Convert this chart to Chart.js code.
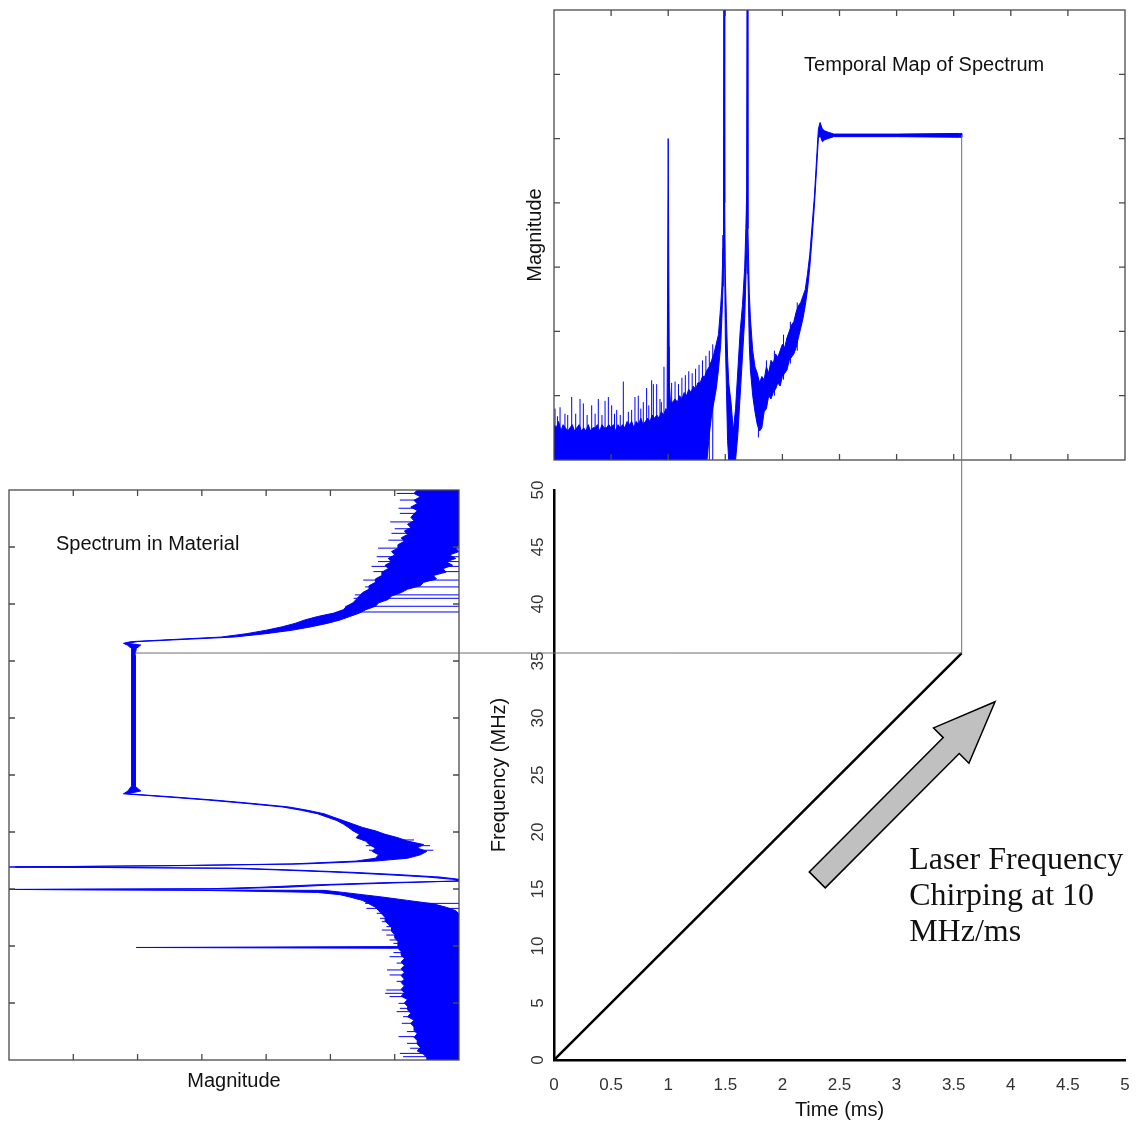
<!DOCTYPE html>
<html>
<head>
<meta charset="utf-8">
<script src="https://cdn.jsdelivr.net/npm/chart.js@4.4.1/dist/chart.umd.min.js"></script>
<style>
  html, body { margin: 0; padding: 0; background: #ffffff; }
  #stage { position: relative; width: 1137px; height: 1122px; }
  #stage canvas { position: absolute; left: 0; top: 0; }
</style>
</head>
<body>
<div id="stage">
  <canvas id="spectrum" width="1137" height="1122"></canvas>
  <canvas id="temporal" width="1137" height="1122"></canvas>
  <canvas id="chirp" width="1137" height="1122"></canvas>
</div>
<script>
// ---- Temporal map of the spectrum: dense core of the trace (low / high) against time (ms)
const temporalTime = [
  0.00, 0.02, 0.04, 0.06, 0.08, 0.10, 0.12, 0.14, 0.16, 0.18,
  0.20, 0.22, 0.24, 0.26, 0.28, 0.30, 0.32, 0.34, 0.36, 0.38,
  0.40, 0.42, 0.44, 0.46, 0.48, 0.50, 0.52, 0.54, 0.56, 0.58,
  0.60, 0.62, 0.64, 0.66, 0.68, 0.70, 0.72, 0.74, 0.76, 0.78,
  0.80, 0.82, 0.84, 0.86, 0.88, 0.90, 0.92, 0.94, 0.96, 0.98,
  0.99, 1.00, 1.01, 1.02, 1.04, 1.06, 1.08, 1.10, 1.12, 1.14,
  1.16, 1.18, 1.20, 1.22, 1.24, 1.26, 1.28, 1.30, 1.32, 1.34,
  1.36, 1.38, 1.40, 1.42, 1.44, 1.46, 1.47, 1.48, 1.485, 1.49,
  1.495, 1.50, 1.51, 1.52, 1.53, 1.55, 1.57, 1.59, 1.61, 1.63,
  1.65, 1.67, 1.68, 1.688, 1.693, 1.698, 1.71, 1.72, 1.74, 1.76,
  1.78, 1.80, 1.82, 1.84, 1.86, 1.88, 1.90, 1.92, 1.94, 1.96,
  1.98, 2.00, 2.02, 2.04, 2.06, 2.08, 2.10, 2.12, 2.14, 2.16,
  2.18, 2.20, 2.22, 2.24, 2.26, 2.28, 2.30, 2.315, 2.33, 2.35,
  2.37, 2.40, 2.45, 3.00, 3.55, 3.57
];
const temporalLow = [
  0, 0, 0, 0, 0, 0, 0, 0, 0, 0,
  0, 0, 0, 0, 0, 0, 0, 0, 0, 0,
  0, 0, 0, 0, 0, 0, 0, 0, 0, 0,
  0, 0, 0, 0, 0, 0, 0, 0, 0, 0,
  0, 0, 0, 0, 0, 0, 0, 0, 0, 0,
  0, 0, 0, 0, 0, 0, 0, 0, 0, 0,
  0, 0, 0, 0, 0, 0, 0, 0, 0, 0,
  0.4, 0.7, 0.9, 1.1, 1.4, 1.8, 2.2, 2.7, 3.5, 7.5,
  3.0, 1.9, 1.1, 0.3, 0, 0, 0, 0, 0.4, 1.0,
  1.6, 2.2, 2.8, 3.3, 7.5, 2.9, 1.8, 1.4, 1.0, 0.75,
  0.55, 0.45, 0.5, 0.75, 0.8, 1.0, 0.95, 1.05, 1.1, 1.2,
  1.15, 1.3, 1.35, 1.4, 1.55, 1.6, 1.65, 1.75, 1.9, 2.05,
  2.2, 2.4, 2.65, 3.0, 3.45, 3.95, 4.55, 5.0, 5.05, 4.95,
  4.98, 5.0, 5.03, 5.03, 5.02, 5.02
];
const temporalHigh = [
  0.55, 0.5, 0.6, 0.45, 0.55, 0.5, 0.45, 0.5, 0.55, 0.45,
  0.5, 0.55, 0.45, 0.5, 0.45, 0.55, 0.45, 0.5, 0.5, 0.55,
  0.45, 0.55, 0.5, 0.5, 0.55, 0.5, 0.55, 0.45, 0.55, 0.5,
  0.55, 0.5, 0.6, 0.55, 0.6, 0.5, 0.6, 0.55, 0.65, 0.55,
  0.6, 0.65, 0.6, 0.7, 0.65, 0.7, 0.65, 0.75, 0.7, 0.8,
  0.75, 5.0, 1.2, 0.9, 0.9, 0.95, 0.9, 1.0, 0.95, 1.05,
  1.0, 1.1, 1.05, 1.15, 1.1, 1.2, 1.2, 1.3, 1.3, 1.4,
  1.45, 1.55, 1.65, 1.8, 1.95, 2.4, 2.7, 3.3, 4.0, 8,
  4.0, 2.9, 2.2, 1.6, 1.2, 0.9, 0.45, 0.8, 1.4, 2.0,
  2.4, 3.0, 3.6, 4.2, 8, 3.6, 2.6, 2.2, 1.7, 1.45,
  1.35, 1.2, 1.3, 1.25, 1.45, 1.35, 1.55, 1.5, 1.65, 1.6,
  1.7, 1.8, 1.75, 1.9, 2.0, 2.1, 2.15, 2.3, 2.4, 2.45,
  2.55, 2.65, 2.9, 3.2, 3.65, 4.1, 4.7, 5.15, 5.25, 5.15,
  5.12, 5.1, 5.07, 5.07, 5.08, 5.08
];
// Individual noise strokes of the temporal trace (time, start, end magnitude)
const temporalSpikeTime = [
  0.009, 0.03, 0.053, 0.096, 0.12, 0.155, 0.19, 0.228, 0.257, 0.29,
  0.33, 0.36, 0.388, 0.42, 0.447, 0.476, 0.505, 0.53, 0.549, 0.58,
  0.607, 0.651, 0.68, 0.709, 0.738, 0.76, 0.782, 0.811, 0.83, 0.855,
  0.87, 0.899, 0.928, 0.94, 0.963, 1.009, 1.03, 1.06, 1.09, 1.12,
  1.15, 1.18, 1.21, 1.24, 1.27, 1.30, 1.33, 1.36, 1.39, 1.79,
  1.86, 1.93, 2.01, 2.07, 2.13
];
const temporalSpikeFrom = [
  0, 0, 0, 0, 0, 0, 0, 0, 0, 0,
  0, 0, 0, 0, 0, 0, 0, 0, 0, 0,
  0, 0, 0, 0, 0, 0, 0, 0, 0, 0,
  0, 0, 0, 0, 0, 0, 0, 0, 0, 0,
  0, 0, 0, 0, 0, 0, 0, 0, 0, 0.35,
  0.8, 1.0, 1.25, 1.5, 1.7
];
const temporalSpikeTo = [
  0.8, 0.68, 0.82, 0.72, 0.7, 0.98, 0.72, 0.95, 0.88, 0.7,
  0.85, 0.72, 0.95, 0.7, 0.92, 0.98, 0.85, 0.72, 0.78, 0.7,
  1.22, 0.75, 0.78, 0.98, 1.0, 0.8, 0.9, 1.12, 0.85, 1.24,
  1.18, 1.18, 0.95, 0.9, 1.45, 1.76, 1.2, 1.22, 1.18, 1.28,
  1.32, 1.38, 1.35, 1.42, 1.48, 1.55, 1.62, 1.7, 1.8, 1.1,
  1.55, 1.7, 1.95, 2.15, 2.45
];

// ---- Spectrum in the material: dense core (low / high magnitude) against frequency (MHz)
const spectrumFreq = [
  50.0, 49.7, 49.4, 49.1, 48.8, 48.5, 48.2, 47.9, 47.6, 47.3,
  47.0, 46.7, 46.4, 46.1, 45.8, 45.5, 45.2, 44.9, 44.6, 44.3,
  44.0, 43.7, 43.4, 43.1, 42.8, 42.5, 42.2, 41.9, 41.6, 41.3,
  41.0, 40.7, 40.4, 40.1, 39.8, 39.5, 39.2, 38.9, 38.6, 38.3,
  38.0, 37.7, 37.4, 37.1, 36.9, 36.7, 36.55, 36.4, 36.1, 35.5,
  30.0, 24.0, 23.6, 23.35, 23.1, 22.8, 22.5, 22.2, 21.9, 21.6,
  21.3, 21.0, 20.7, 20.4, 20.1, 19.8, 19.5, 19.2, 18.9, 18.6,
  18.3, 18.0, 17.7, 17.45, 17.2, 17.05, 16.93, 16.82, 16.65, 16.45,
  16.25, 16.05, 15.85, 15.7, 15.55, 15.35, 15.15, 15.02, 14.96, 14.88,
  14.7, 14.5, 14.3, 14.0, 13.7, 13.4, 13.1, 12.8, 12.5, 12.2,
  11.9, 11.6, 11.3, 11.0, 10.7, 10.4, 10.1, 9.95, 9.87, 9.8,
  9.5, 9.2, 8.9, 8.6, 8.3, 8.0, 7.7, 7.4, 7.1, 6.8,
  6.5, 6.2, 5.9, 5.6, 5.3, 5.0, 4.7, 4.4, 4.1, 3.8,
  3.5, 3.2, 2.9, 2.6, 2.3, 2.0, 1.7, 1.4, 1.1, 0.8,
  0.5, 0.2, 0.0
];
const spectrumLow = [
  6.35, 6.3, 6.4, 6.3, 6.35, 6.25, 6.35, 6.3, 6.25, 6.3,
  6.2, 6.25, 6.15, 6.2, 6.1, 6.15, 6.05, 6.05, 5.95, 6.0,
  5.9, 5.95, 5.85, 5.9, 5.8, 5.8, 5.7, 5.7, 5.6, 5.6,
  5.5, 5.45, 5.4, 5.35, 5.25, 5.2, 5.05, 4.8, 4.6, 4.45,
  4.25, 4.0, 3.7, 3.3, 2.6, 1.9, 1.78, 1.84, 1.9, 1.91,
  1.91, 1.9, 1.85, 1.78, 2.4, 3.1, 3.7, 4.25, 4.55, 4.8,
  4.95, 5.1, 5.2, 5.28, 5.35, 5.45, 5.4, 5.55, 5.6, 5.7,
  5.65, 5.75, 5.7, 5.4, 4.4, 2.5, 0, 3.4, 4.3, 5.2,
  5.9, 6.5, 6.9, 7, 5.8, 4.7, 3.9, 3.1, 0, 3.0,
  4.8, 5.15, 5.3, 5.5, 5.6, 5.7, 5.75, 5.8, 5.85, 5.85,
  5.9, 5.95, 5.95, 6.0, 6.0, 6.05, 6.05, 6.05, 1.98, 6.05,
  6.1, 6.1, 6.15, 6.1, 6.15, 6.1, 6.15, 6.1, 6.15, 6.1,
  6.15, 6.1, 6.15, 6.1, 6.2, 6.15, 6.2, 6.2, 6.25, 6.2,
  6.3, 6.25, 6.3, 6.3, 6.35, 6.3, 6.35, 6.35, 6.4, 6.35,
  6.45, 6.5, 6.5
];
const spectrumHigh = [
  7, 7, 7, 7, 7, 7, 7, 7, 7, 7,
  7, 7, 7, 7, 7, 7, 7, 6.95, 7, 6.85,
  6.95, 6.8, 6.9, 6.75, 6.8, 6.6, 6.65, 6.45, 6.4, 6.2,
  6.1, 5.95, 5.9, 5.75, 5.7, 5.55, 5.45, 5.3, 5.15, 4.95,
  4.7, 4.4, 4.0, 3.5, 2.75, 2.0, 1.84, 2.05, 1.98, 1.96,
  1.96, 1.97, 2.05, 1.84, 2.5, 3.2, 3.8, 4.35, 4.65, 4.9,
  5.05, 5.2, 5.35, 5.5, 5.7, 5.85, 6.05, 6.2, 6.45, 6.35,
  6.5, 6.4, 6.2, 5.7, 4.6, 2.7, 0.1, 3.6, 4.5, 5.4,
  6.1, 6.7, 7, 7, 6.1, 5.0, 4.3, 3.4, 0.1, 4.9,
  5.2, 5.5, 5.8, 6.2, 6.6, 6.8, 6.95, 7, 7, 7,
  7, 7, 7, 7, 7, 7, 7, 7, 7, 7,
  7, 7, 7, 7, 7, 7, 7, 7, 7, 7,
  7, 7, 7, 7, 7, 7, 7, 7, 7, 7,
  7, 7, 7, 7, 7, 7, 7, 7, 7, 7,
  7, 7, 7
];
// Individual noise strokes of the spectrum (frequency, left end magnitude), each running to the right edge
const spectrumSpikeFreq = [
  49.7, 49.12, 48.4, 47.95, 47.2, 46.6, 46.2, 45.6, 44.9, 44.15,
  43.72, 43.3, 42.84, 42.1, 41.5, 40.8, 40.5, 39.8, 39.3, 19.3,
  18.8, 18.4, 13.74, 13.3, 12.87, 12.43, 12.13, 11.7, 11.4, 10.96,
  10.53, 10.23, 9.42, 9.06, 8.5, 7.9, 7.46, 6.9, 6.14, 5.85,
  5.56, 4.97, 4.53, 4.24, 3.8, 3.22, 2.49, 2.05, 1.46, 1.03,
  0.58, 0.29
];
const spectrumSpikeTo = [
  6.03, 6.08, 6.06, 6.08, 5.93, 6.0, 5.95, 5.9, 5.74, 5.72,
  5.74, 5.64, 5.67, 5.51, 5.54, 5.38, 5.36, 5.23, 5.15, 5.5,
  5.55, 5.6, 5.54, 5.56, 5.72, 5.77, 5.8, 5.87, 5.8, 5.87,
  5.92, 5.98, 5.98, 5.92, 6.03, 5.88, 5.92, 6.03, 5.87, 5.85,
  5.92, 6.06, 6.08, 6.03, 6.13, 6.11, 6.19, 6.06, 6.19, 6.24,
  6.08, 6.13
];
const spectrumSpikeFrom = [
  7, 7, 7, 7, 7, 7, 7, 7, 7, 7,
  7, 7, 7, 7, 7, 7, 7, 7, 7, 6.3,
  6.55, 6.6, 7, 7, 7, 7, 7, 7, 7, 7,
  7, 7, 7, 7, 7, 7, 7, 7, 7, 7,
  7, 7, 7, 7, 7, 7, 7, 7, 7, 7,
  7, 7
];

// ---- Laser chirp: frequency (MHz) against time (ms), 10 MHz/ms
const chirpTime = [0, 3.57];
const chirpFreq = [0, 35.7];

// ---- Tick positions
const timeTicks = [0, 0.5, 1, 1.5, 2, 2.5, 3, 3.5, 4, 4.5, 5];
const freqTicks = [0, 5, 10, 15, 20, 25, 30, 35, 40, 45, 50];
const magnitudeTicks = [0, 1, 2, 3, 4, 5, 6, 7];

const SANS = '"Liberation Sans", Arial, Helvetica, sans-serif';
const SERIF = '"Liberation Serif", "Times New Roman", Times, serif';
const TRACE_BLUE = '#0000ff';
Chart.defaults.font.family = SANS;

// Closed outline of a noisy band: upper edge forward, lower edge back.
function bandOutline(keys, low, high, keysOnX) {
  const pts = [];
  keys.forEach((k, i) => pts.push(keysOnX ? { x: k, y: high[i] } : { x: high[i], y: k }));
  for (let i = keys.length - 1; i >= 0; i--) {
    pts.push(keysOnX ? { x: keys[i], y: low[i] } : { x: low[i], y: keys[i] });
  }
  return pts;
}

// Separate strokes, broken apart by empty points.
function strokes(keys, from, to, keysOnX) {
  const pts = [];
  keys.forEach((k, i) => {
    if (keysOnX) { pts.push({ x: k, y: from[i] }, { x: k, y: to[i] }); }
    else { pts.push({ x: from[i], y: k }, { x: to[i], y: k }); }
    pts.push({ x: NaN, y: NaN });
  });
  return pts;
}

const inner = (arr) => arr.slice(1, arr.length - 1);

// Boxed axes with inward tick marks and an in-plot caption.
const framePlugin = {
  id: 'frame',
  afterDatasetsDraw(chart, args, opts) {
    const { ctx, chartArea: a, scales: { x, y } } = chart;
    ctx.save();
    ctx.strokeStyle = '#4a4a4a';
    ctx.lineWidth = 1.3;
    ctx.strokeRect(a.left, a.top, a.right - a.left, a.bottom - a.top);
    ctx.beginPath();
    opts.xTicks.forEach(v => {
      const px = x.getPixelForValue(v);
      ctx.moveTo(px, a.top); ctx.lineTo(px, a.top + 6);
      ctx.moveTo(px, a.bottom); ctx.lineTo(px, a.bottom - 6);
    });
    opts.yTicks.forEach(v => {
      const py = y.getPixelForValue(v);
      ctx.moveTo(a.left, py); ctx.lineTo(a.left + 6, py);
      ctx.moveTo(a.right, py); ctx.lineTo(a.right - 6, py);
    });
    ctx.stroke();
    ctx.fillStyle = '#111';
    ctx.font = '20px ' + SANS;
    ctx.textAlign = 'left';
    ctx.textBaseline = 'middle';
    ctx.fillText(opts.caption, x.getPixelForValue(opts.captionAt[0]), y.getPixelForValue(opts.captionAt[1]));
    ctx.restore();
  }
};

const baseOptions = {
  responsive: false,
  animation: false,
  devicePixelRatio: 1,
  events: [],
  plugins: { legend: { display: false }, tooltip: { enabled: false } }
};

const bandDataset = (data) => ({
  data,
  showLine: true,
  fill: 'shape',
  backgroundColor: TRACE_BLUE,
  borderColor: TRACE_BLUE,
  borderWidth: 1,
  pointRadius: 0,
  tension: 0
});
const strokeDataset = (data) => ({
  data,
  showLine: true,
  spanGaps: false,
  fill: false,
  borderColor: TRACE_BLUE,
  borderWidth: 1,
  pointRadius: 0,
  tension: 0
});

// Left panel: spectrum in the material (frequency vertical)
const spectrumChart = new Chart(document.getElementById('spectrum'), {
  type: 'scatter',
  data: {
    datasets: [
      bandDataset(bandOutline(spectrumFreq, spectrumLow, spectrumHigh, false)),
      strokeDataset(strokes(spectrumSpikeFreq, spectrumSpikeFrom, spectrumSpikeTo, false))
    ]
  },
  options: Object.assign({}, baseOptions, {
    layout: { padding: { left: 9, top: 490, right: 678, bottom: 29 } },
    scales: {
      x: {
        type: 'linear', min: 0, max: 7,
        grid: { display: false }, border: { display: false },
        ticks: { display: false },
        title: { display: true, text: 'Magnitude', color: '#111', font: { size: 20 }, padding: 0 },
        afterFit: (s) => { s.height = 33; }
      },
      y: { type: 'linear', min: 0, max: 50, display: false }
    },
    plugins: Object.assign({}, baseOptions.plugins, {
      frame: { xTicks: inner(magnitudeTicks), yTicks: inner(freqTicks), caption: 'Spectrum in Material', captionAt: [0.73, 45.26] }
    })
  }),
  plugins: [framePlugin]
});

// Top panel: temporal map of the spectrum (time horizontal)
const temporalChart = new Chart(document.getElementById('temporal'), {
  type: 'scatter',
  data: {
    datasets: [
      bandDataset(bandOutline(temporalTime, temporalLow, temporalHigh, true)),
      strokeDataset(strokes(temporalSpikeTime, temporalSpikeFrom, temporalSpikeTo, true))
    ]
  },
  options: Object.assign({}, baseOptions, {
    layout: { padding: { left: 523, top: 10, right: 12, bottom: 662 } },
    scales: {
      x: { type: 'linear', min: 0, max: 5, display: false },
      y: {
        type: 'linear', min: 0, max: 7,
        grid: { display: false }, border: { display: false },
        ticks: { display: false },
        title: { display: true, text: 'Magnitude', color: '#111', font: { size: 20 }, padding: 0 },
        afterFit: (s) => { s.width = 31; }
      }
    },
    plugins: Object.assign({}, baseOptions.plugins, {
      frame: { xTicks: inner(timeTicks), yTicks: inner(magnitudeTicks), caption: 'Temporal Map of Spectrum', captionAt: [2.19, 6.13] }
    })
  }),
  plugins: [framePlugin]
});

// Guides from the chirp end to both spectra, the direction arrow and its note
const chirpGuides = {
  id: 'chirpGuides',
  afterDraw(chart) {
    const { ctx, scales: { x, y } } = chart;
    const last = chirpTime.length - 1;
    const px = x.getPixelForValue(chirpTime[last]);
    const py = y.getPixelForValue(chirpFreq[last]);

    const tl = temporalLow.length - 1;
    const plateauY = temporalChart.scales.y.getPixelForValue((temporalLow[tl] + temporalHigh[tl]) / 2);
    let k = 0;
    spectrumFreq.forEach((f, i) => {
      if (Math.abs(f - chirpFreq[last]) < Math.abs(spectrumFreq[k] - chirpFreq[last])) k = i;
    });
    const plateauX = spectrumChart.scales.x.getPixelForValue(spectrumHigh[k]);

    ctx.save();
    ctx.strokeStyle = '#6e6e6e';
    ctx.lineWidth = 1;
    ctx.beginPath();
    ctx.moveTo(px, plateauY); ctx.lineTo(px, py);
    ctx.moveTo(plateauX, py); ctx.lineTo(px, py);
    ctx.stroke();

    // block arrow along the chirp direction
    const tail = { x: x.getPixelForValue(2.305), y: y.getPixelForValue(15.8) };
    const tip = { x: x.getPixelForValue(3.862), y: y.getPixelForValue(31.43) };
    const len = Math.hypot(tip.x - tail.x, tip.y - tail.y);
    const u = { x: (tip.x - tail.x) / len, y: (tip.y - tail.y) / len };
    const n = { x: -u.y, y: u.x };
    const shaft = 11.3, head = 25, headLen = 62;
    const neck = { x: tip.x - u.x * headLen, y: tip.y - u.y * headLen };
    const P = (b, s) => [b.x + n.x * s, b.y + n.y * s];
    const poly = [P(tail, shaft), P(neck, shaft), P(neck, head), [tip.x, tip.y], P(neck, -head), P(neck, -shaft), P(tail, -shaft)];
    ctx.beginPath();
    poly.forEach((p, i) => (i ? ctx.lineTo(p[0], p[1]) : ctx.moveTo(p[0], p[1])));
    ctx.closePath();
    ctx.fillStyle = '#c0c0c0';
    ctx.fill();
    ctx.strokeStyle = '#000';
    ctx.lineWidth = 1.5;
    ctx.stroke();

    ctx.fillStyle = '#111';
    ctx.font = '32px ' + SERIF;
    ctx.textAlign = 'left';
    ctx.textBaseline = 'middle';
    const tx = x.getPixelForValue(3.11);
    const ty = y.getPixelForValue(17.46);
    ['Laser Frequency', 'Chirping at 10', 'MHz/ms'].forEach((line, i) => ctx.fillText(line, tx, ty + i * 36));
    ctx.restore();
  }
};

// Bottom-right panel: laser frequency against time
new Chart(document.getElementById('chirp'), {
  type: 'scatter',
  data: {
    datasets: [{
      data: chirpTime.map((t, i) => ({ x: t, y: chirpFreq[i] })),
      showLine: true,
      borderColor: '#000',
      borderWidth: 2.5,
      pointRadius: 0,
      fill: false,
      tension: 0
    }]
  },
  options: Object.assign({}, baseOptions, {
    layout: { padding: { left: 487, top: 490, right: 12, bottom: 0 } },
    scales: {
      x: {
        type: 'linear', min: 0, max: 5,
        afterBuildTicks: (s) => { s.ticks = timeTicks.map(v => ({ value: v })); },
        grid: { display: false },
        border: { display: true, color: '#000', width: 2.5 },
        ticks: { color: '#333', font: { size: 17 }, padding: 7, maxRotation: 0, autoSkip: false, callback: (v) => String(v) },
        title: { display: true, text: 'Time (ms)', color: '#111', font: { size: 20 }, padding: 0 },
        afterFit: (s) => { s.height = 62; }
      },
      y: {
        type: 'linear', min: 0, max: 50,
        afterBuildTicks: (s) => { s.ticks = freqTicks.map(v => ({ value: v })); },
        grid: { display: false },
        border: { display: true, color: '#000', width: 2.5 },
        ticks: { color: '#333', font: { size: 17 }, padding: -2, minRotation: 90, maxRotation: 90, crossAlign: 'center', autoSkip: false, callback: (v) => String(v) },
        title: { display: true, text: 'Frequency (MHz)', color: '#111', font: { size: 20 }, padding: 0 },
        afterFit: (s) => { s.width = 67; }
      }
    }
  }),
  plugins: [chirpGuides]
});
</script>
</body>
</html>
